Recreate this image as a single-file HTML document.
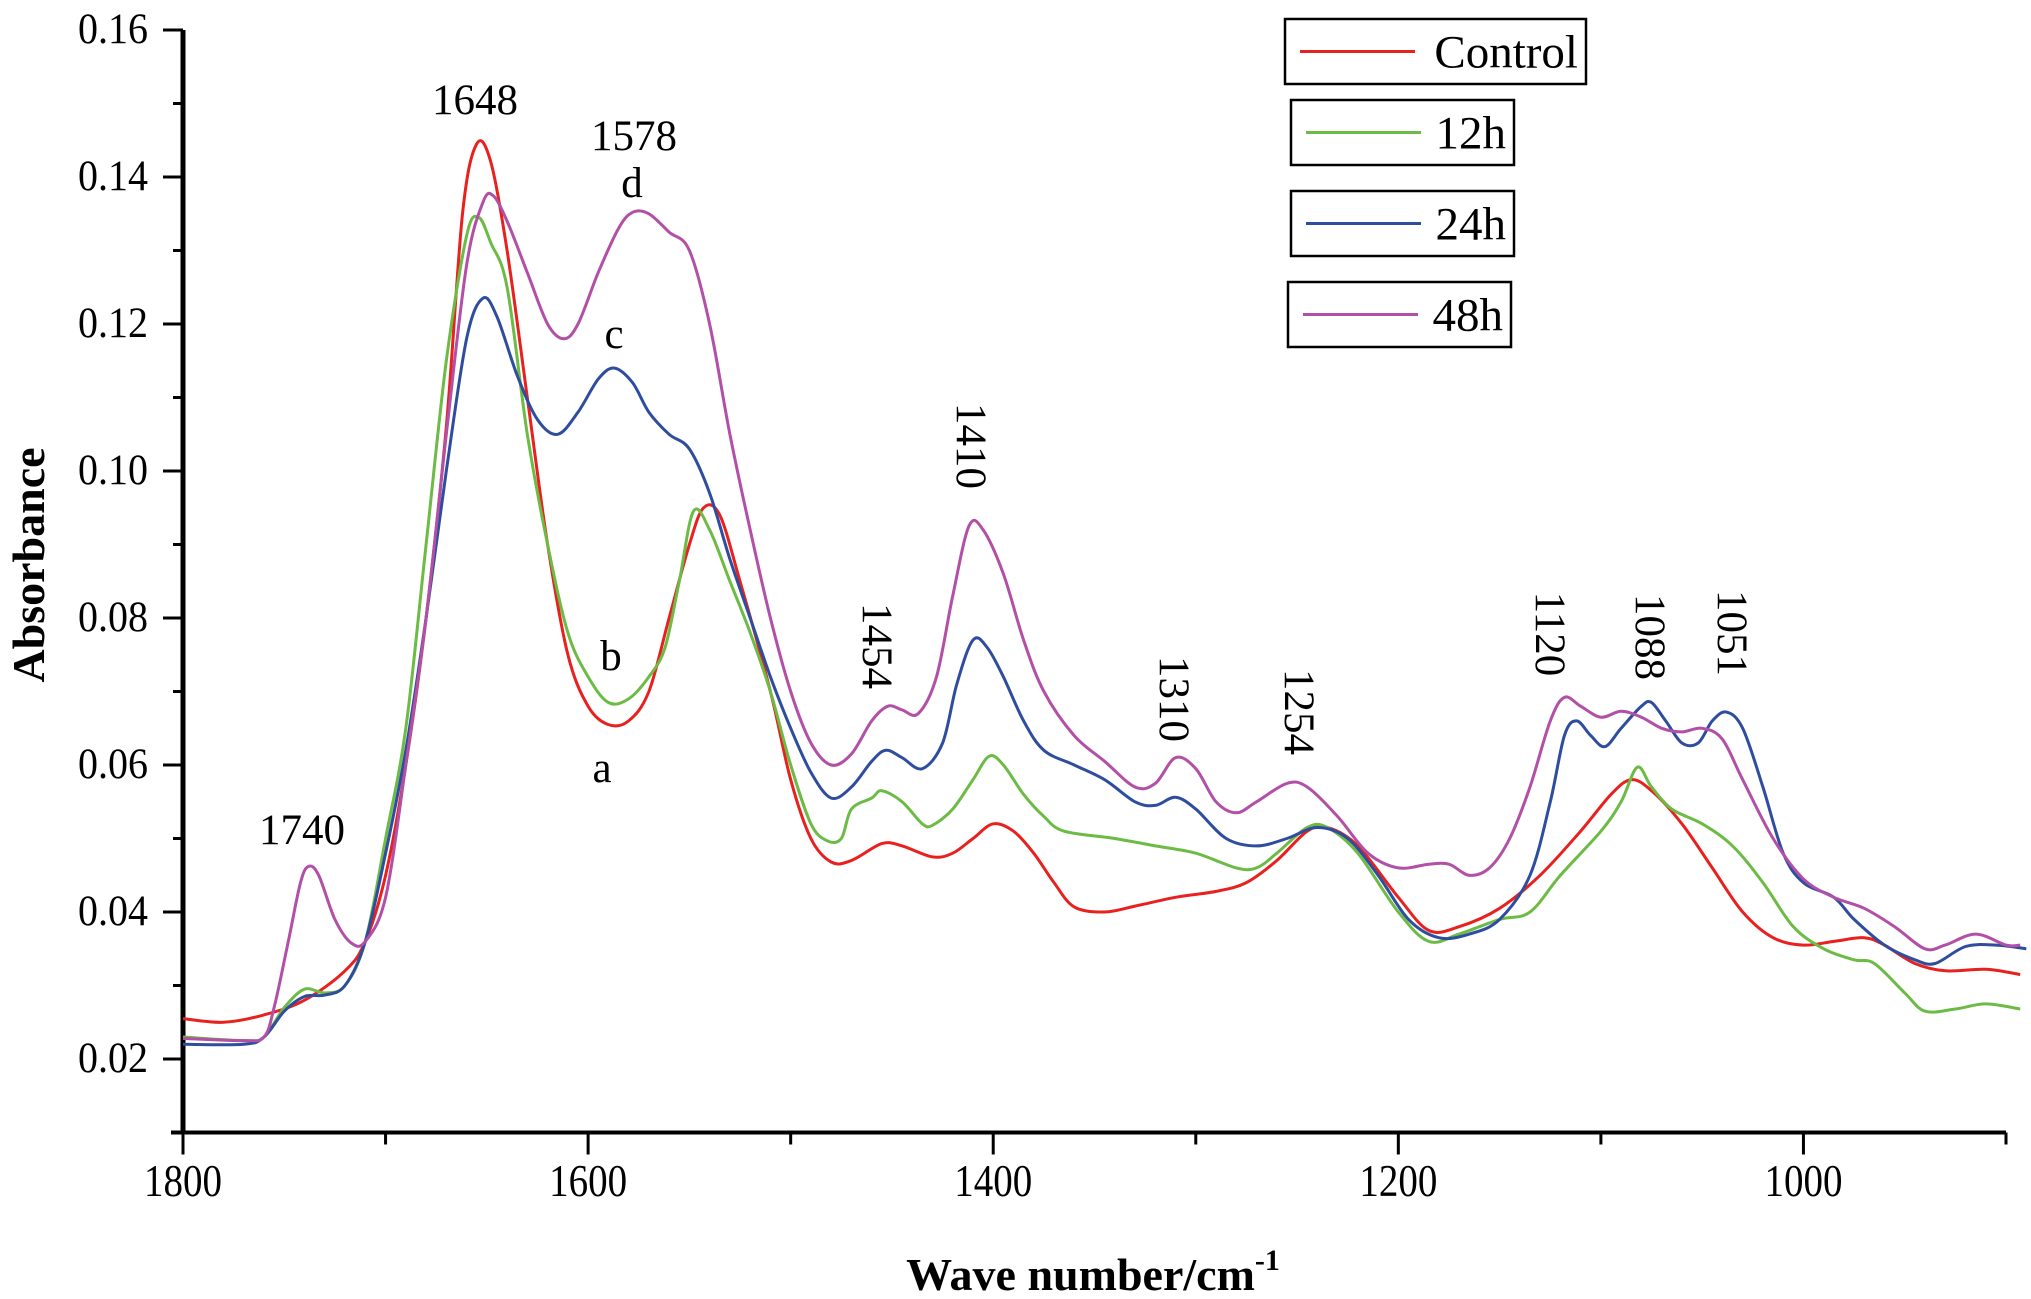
<!DOCTYPE html>
<html><head><meta charset="utf-8"><style>
html,body{margin:0;padding:0;background:#fff;}
svg{display:block;font-family:"Liberation Serif",serif;}
</style></head><body>
<svg id="chart" width="2031" height="1299" viewBox="0 0 2031 1299" xmlns="http://www.w3.org/2000/svg">
<g id="grid-axes"></g>
<g id="series"></g>
<g id="labels"></g>
<g id="legend"></g>
<text x="0" y="0" transform="translate(44,565) rotate(-90)" text-anchor="middle" font-size="46" font-weight="bold">Absorbance</text>
<text x="1093" y="1290" text-anchor="middle" font-size="46" font-weight="bold">Wave number/cm<tspan font-size="30" dy="-20">-1</tspan></text>
</svg>
<script>
const xTicks=[1800,1600,1400,1200,1000];
const yTicks=[0.02,0.04,0.06,0.08,0.10,0.12,0.14,0.16];
const yTickLabels=["0.02","0.04","0.06","0.08","0.10","0.12","0.14","0.16"];
const seriesNames=["Control","12h","24h","48h"];
const seriesColors=["#e8211f","#6cbb45","#2f4d9e","#b24fa6"];
const controlWn=[1800,1780,1760,1740,1720,1710,1700,1690,1680,1670,1662,1655,1648,1640,1630,1620,1610,1600,1590,1580,1570,1560,1550,1543,1535,1525,1510,1500,1490,1480,1470,1455,1445,1430,1420,1410,1400,1390,1380,1370,1360,1345,1330,1310,1290,1275,1260,1245,1235,1220,1200,1185,1170,1150,1130,1110,1095,1085,1075,1060,1045,1030,1015,1000,985,970,960,945,930,910,893];
const controlAbs=[0.0255,0.025,0.026,0.028,0.032,0.036,0.045,0.06,0.08,0.106,0.135,0.1445,0.142,0.13,0.11,0.09,0.075,0.068,0.0655,0.066,0.07,0.08,0.09,0.095,0.094,0.085,0.07,0.058,0.05,0.0468,0.047,0.0493,0.049,0.0475,0.048,0.05,0.052,0.051,0.048,0.044,0.0407,0.040,0.0408,0.042,0.0428,0.044,0.047,0.051,0.0515,0.049,0.042,0.0375,0.038,0.0405,0.045,0.051,0.056,0.058,0.0565,0.052,0.046,0.04,0.0365,0.0355,0.036,0.0365,0.0355,0.033,0.032,0.0322,0.0315];
const h12Wn=[1800,1770,1760,1750,1740,1730,1720,1710,1700,1690,1680,1670,1660,1654,1648,1640,1630,1620,1610,1600,1590,1580,1570,1562,1555,1548,1540,1530,1520,1510,1500,1490,1482,1475,1470,1460,1455,1445,1435,1430,1420,1410,1402,1395,1385,1375,1365,1340,1320,1300,1280,1270,1260,1245,1235,1220,1200,1185,1170,1150,1135,1120,1100,1090,1082,1075,1065,1050,1035,1020,1005,990,975,965,950,940,925,910,893];
const h12Abs=[0.023,0.0225,0.023,0.027,0.0295,0.029,0.03,0.036,0.05,0.065,0.09,0.115,0.132,0.1345,0.131,0.125,0.105,0.09,0.078,0.072,0.0685,0.069,0.072,0.076,0.085,0.0945,0.092,0.085,0.078,0.07,0.06,0.052,0.0497,0.05,0.054,0.0555,0.0565,0.055,0.052,0.0518,0.054,0.058,0.0612,0.06,0.056,0.053,0.051,0.050,0.049,0.048,0.046,0.046,0.048,0.0515,0.0515,0.048,0.040,0.036,0.037,0.039,0.040,0.045,0.051,0.055,0.0597,0.057,0.054,0.052,0.049,0.044,0.038,0.035,0.0335,0.033,0.029,0.0265,0.0268,0.0275,0.0268];
const h24Wn=[1800,1770,1760,1750,1740,1730,1720,1710,1700,1690,1680,1670,1660,1652,1645,1635,1625,1615,1605,1595,1587,1578,1570,1560,1550,1540,1530,1520,1510,1500,1490,1480,1470,1460,1453,1445,1435,1425,1418,1410,1403,1395,1385,1375,1360,1345,1330,1320,1310,1300,1285,1270,1255,1240,1225,1210,1195,1180,1165,1150,1135,1125,1118,1112,1105,1098,1090,1080,1075,1068,1060,1052,1045,1038,1030,1020,1010,1000,985,975,960,945,935,920,905,890];
const h24Abs=[0.022,0.022,0.023,0.0265,0.0285,0.0287,0.03,0.036,0.048,0.062,0.08,0.1,0.118,0.1235,0.121,0.113,0.107,0.105,0.108,0.1125,0.114,0.112,0.108,0.105,0.103,0.097,0.088,0.08,0.072,0.065,0.059,0.0555,0.057,0.0605,0.062,0.061,0.0595,0.063,0.071,0.077,0.076,0.072,0.066,0.062,0.06,0.058,0.055,0.0545,0.0556,0.054,0.05,0.049,0.05,0.0515,0.05,0.045,0.039,0.0365,0.037,0.039,0.045,0.055,0.064,0.066,0.064,0.0625,0.065,0.068,0.0685,0.066,0.063,0.063,0.066,0.0672,0.065,0.057,0.048,0.044,0.042,0.039,0.0355,0.0335,0.033,0.0353,0.0355,0.035];
const h48Wn=[1800,1770,1760,1755,1748,1742,1738,1733,1725,1717,1710,1700,1690,1680,1670,1660,1652,1647,1640,1630,1620,1612,1605,1595,1585,1578,1570,1560,1550,1540,1530,1520,1510,1500,1490,1480,1470,1460,1452,1445,1437,1428,1420,1412,1405,1395,1385,1375,1360,1345,1330,1320,1310,1300,1290,1280,1270,1255,1245,1230,1215,1200,1185,1175,1165,1155,1145,1135,1125,1118,1110,1100,1090,1080,1070,1060,1050,1040,1030,1015,1000,985,970,955,940,930,915,900,893];
const h48Abs=[0.0228,0.0225,0.023,0.027,0.036,0.044,0.0462,0.045,0.039,0.0358,0.036,0.042,0.06,0.08,0.105,0.128,0.1365,0.1375,0.134,0.127,0.12,0.118,0.12,0.127,0.133,0.1352,0.135,0.1325,0.13,0.12,0.105,0.092,0.08,0.07,0.063,0.06,0.0615,0.066,0.068,0.0675,0.067,0.072,0.083,0.0925,0.092,0.086,0.077,0.07,0.064,0.0605,0.057,0.0575,0.061,0.0595,0.055,0.0535,0.055,0.0575,0.057,0.053,0.048,0.046,0.0465,0.0465,0.045,0.046,0.05,0.057,0.066,0.0692,0.068,0.0665,0.0673,0.0665,0.065,0.0645,0.065,0.0635,0.058,0.05,0.0445,0.042,0.0405,0.038,0.035,0.0355,0.037,0.0355,0.0355];

const NS="http://www.w3.org/2000/svg";
const X0=183,X1=2006,WN0=1800,WN1=900;
const Y0=1059,Y1=30,A0=0.02,A1=0.16;
function xs(w){return X0+(WN0-w)*(X1-X0)/(WN0-WN1);}
function ys(a){return Y0+(a-A0)*(Y1-Y0)/(A1-A0);}
function mk(tag,attrs,parent){const e=document.createElementNS(NS,tag);for(const k in attrs)e.setAttribute(k,attrs[k]);parent.appendChild(e);return e;}
const axes=document.getElementById('grid-axes');
const yBottom=ys(0.01);
let e=mk('line',{x1:X0,y1:Y1,x2:X0,y2:yBottom,stroke:'#000','stroke-width':5},axes);


e=mk('line',{x1:X0-12,y1:yBottom,x2:X1,y2:yBottom,stroke:'#000','stroke-width':4},axes);


for(let i=1;i<=16;i++){const a=i/100;const y=ys(a);const major=(i%2===0);
 e=mk('line',{x1:X0-(major?20:10),y1:y,x2:X0,y2:y,stroke:'#000','stroke-width':3},axes);
 
 }
yTicks.forEach((a,i)=>{e=mk('text',{x:148,y:ys(a)+13,'text-anchor':'end','font-size':43,textLength:70,lengthAdjust:'spacingAndGlyphs'},axes);e.textContent=yTickLabels[i];
 
 });
for(let w=1800;w>=900;w-=100){const x=xs(w);const major=(w%200===0);
 e=mk('line',{x1:x,y1:yBottom,x2:x,y2:yBottom+(major?22:12),stroke:'#000','stroke-width':3},axes);
 
 }
xTicks.forEach(w=>{e=mk('text',{x:xs(w),y:1196,'text-anchor':'middle','font-size':45,textLength:78,lengthAdjust:'spacingAndGlyphs'},axes);e.textContent=String(w);
 
 });
function smoothPath(wn,ab){const p=wn.map((w,i)=>[xs(w),ys(ab[i])]);let d='M'+p[0][0].toFixed(1)+','+p[0][1].toFixed(1);
 for(let i=0;i<p.length-1;i++){const a=p[Math.max(0,i-1)],b=p[i],c=p[i+1],dd=p[Math.min(p.length-1,i+2)];
  const c1=[b[0]+(c[0]-a[0])/6,b[1]+(c[1]-a[1])/6],c2=[c[0]-(dd[0]-b[0])/6,c[1]-(dd[1]-b[1])/6];
  d+=' C'+c1[0].toFixed(1)+','+c1[1].toFixed(1)+' '+c2[0].toFixed(1)+','+c2[1].toFixed(1)+' '+c[0].toFixed(1)+','+c[1].toFixed(1);}
 return d;}
const sg=document.getElementById('series');
const allWn=[controlWn,h12Wn,h24Wn,h48Wn],allAb=[controlAbs,h12Abs,h24Abs,h48Abs];
const lineNames=['control-line','12h-line','24h-line','48h-line'];
[0,1,2,3].forEach(i=>{e=mk('path',{d:smoothPath(allWn[i],allAb[i]),fill:'none',stroke:seriesColors[i],'stroke-width':3,'stroke-linejoin':'round'},sg);
 
 });
const lg=document.getElementById('legend');
const boxes=[[1285,19,301,65],[1291,100,223,65],[1291,191,223,65],[1288,282,223,65]];
const legNames=['legend-control','legend-12h','legend-24h','legend-48h'];
boxes.forEach((b,i)=>{const g=mk('g',{},lg);
 
 
 mk('rect',{x:b[0],y:b[1],width:b[2],height:b[3],fill:'#fff',stroke:'#000','stroke-width':2.5},g);
 mk('line',{x1:b[0]+15,y1:b[1]+b[3]/2,x2:b[0]+130,y2:b[1]+b[3]/2,stroke:seriesColors[i],'stroke-width':3},g);
 const t=mk('text',{x:b[0]+b[2]-8,y:b[1]+b[3]/2+16,'text-anchor':'end','font-size':47},g);t.textContent=seriesNames[i];});
const lab=document.getElementById('labels');
const hLabels=[["1648",475,114],["1578",634,150],["d",632,197],["c",614,348],["b",611,670],["a",602,782],["1740",302,844]];
hLabels.forEach(l=>{e=mk('text',{x:l[1],y:l[2],'text-anchor':'middle','font-size':43},lab);e.textContent=l[0];
 
 });
const vLabels=[["1410",972,446],["1454",878,646],["1310",1175,699],["1254",1300,712],["1120",1551,634],["1088",1651,637],["1051",1733,633]];
vLabels.forEach(l=>{e=mk('text',{x:0,y:0,transform:'translate('+l[1]+','+l[2]+') rotate(90)','text-anchor':'middle','font-size':43,dy:15},lab);e.textContent=l[0];
 
 });
</script>
</body></html>
